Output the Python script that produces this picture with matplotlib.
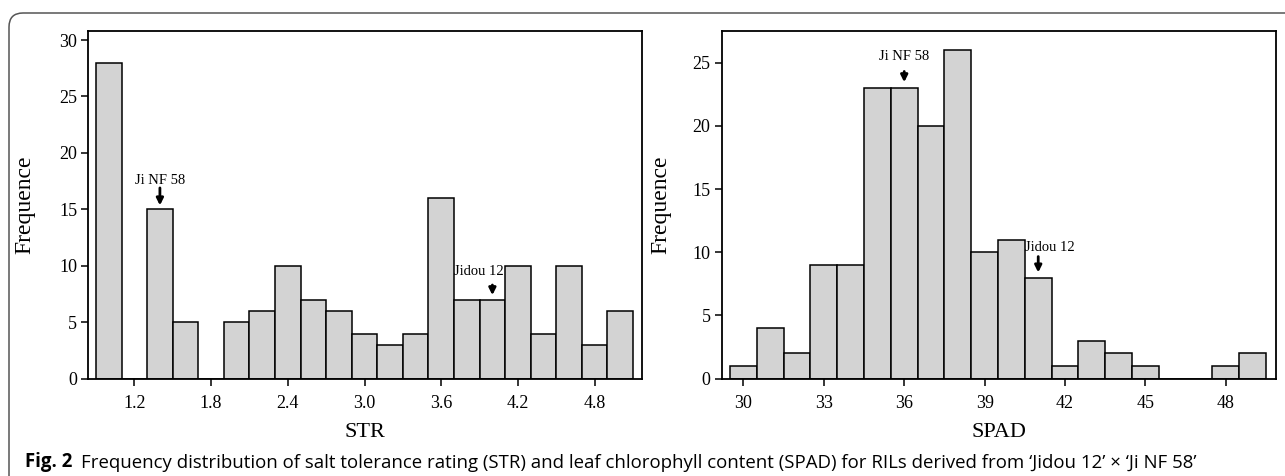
import matplotlib
matplotlib.use("Agg")
import matplotlib.pyplot as plt
from matplotlib.patches import FancyBboxPatch

# salt tolerance rating histogram (bin centres, width 0.2)
str_centres = [1.0, 1.2, 1.4, 1.6, 1.8, 2.0, 2.2, 2.4, 2.6, 2.8, 3.0,
               3.2, 3.4, 3.6, 3.8, 4.0, 4.2, 4.4, 4.6, 4.8, 5.0]
str_counts = [28, 0, 15, 5, 0, 5, 6, 10, 7, 6, 4,
              3, 4, 16, 7, 7, 10, 4, 10, 3, 6]
str_ticks = [1.2, 1.8, 2.4, 3.0, 3.6, 4.2, 4.8]

# leaf chlorophyll content histogram (bin centres, width 1)
spad_centres = [30, 31, 32, 33, 34, 35, 36, 37, 38, 39,
                40, 41, 42, 43, 44, 45, 46, 47, 48, 49]
spad_counts = [1, 4, 2, 9, 9, 23, 23, 20, 26, 10,
               11, 8, 1, 3, 2, 1, 0, 0, 1, 2]
spad_ticks = [30, 33, 36, 39, 42, 45, 48]

caption_bold = "Fig. 2"
caption = ("Frequency distribution of salt tolerance rating (STR) and leaf chlorophyll "
           "content (SPAD) for RILs derived from \u2018Jidou 12\u2019 \u00d7 \u2018Ji NF 58\u2019")

SERIF = "Liberation Serif"
SANS = "Open Sans"
W, H = 1285, 476

fig = plt.figure(figsize=(W / 100, H / 100), dpi=100)
ax1 = fig.add_axes([88.3 / W, 1 - 378.7 / H, (642 - 88.3) / W, (378.7 - 31) / H])
ax2 = fig.add_axes([721.7 / W, 1 - 378.7 / H, (1275.7 - 721.7) / W, (378.7 - 31) / H])


def style(ax, xlabel):
    for s in ax.spines.values():
        s.set_linewidth(1.3)
        s.set_color("black")
    ax.tick_params(axis="both", direction="out", length=5, width=1.1, colors="black")
    ax.tick_params(axis="x", pad=7, labelsize=13)
    ax.tick_params(axis="y", pad=3, labelsize=13)
    for lab in ax.get_xticklabels() + ax.get_yticklabels():
        lab.set_fontfamily(SERIF)
    ax.set_xlabel(xlabel, fontsize=16, family=SERIF, labelpad=8)
    ax.set_ylabel("Frequence", fontsize=17, family=SERIF)


def mark(ax, x_arrow, y_head, y_tail, label, x_text, y_text):
    ax.annotate("", xy=(x_arrow, y_head), xytext=(x_arrow, y_tail),
                arrowprops=dict(arrowstyle="-|>", color="black", lw=2.0,
                                mutation_scale=10, shrinkA=0, shrinkB=0))
    ax.text(x_text, y_text, label, ha="center", va="baseline",
            fontsize=10.5, family=SERIF)


# left panel: STR
ax1.bar(str_centres, str_counts, width=0.2, color="#d3d3d3",
        edgecolor="black", linewidth=1.1)
ax1.set_xlim(0.84, 5.17)
ax1.set_ylim(0, 30.8)
ax1.set_xticks(str_ticks)
ax1.set_xticklabels([f"{t:.1f}" for t in str_ticks])
ax1.set_yticks([0, 5, 10, 15, 20, 25, 30])
style(ax1, "STR")
ax1.yaxis.set_label_coords(-0.096, 0.5)
mark(ax1, 1.4, 15.35, 16.9, "Ji NF 58", 1.4, 17.25)
mark(ax1, 4.0, 7.4, 8.3, "Jidou 12", 3.89, 9.2)

# right panel: SPAD
ax2.bar(spad_centres, spad_counts, width=1.0, color="#d3d3d3",
        edgecolor="black", linewidth=1.1)
ax2.set_xlim(29.19, 49.86)
ax2.set_ylim(0, 27.5)
ax2.set_xticks(spad_ticks)
ax2.set_yticks([0, 5, 10, 15, 20, 25])
style(ax2, "SPAD")
ax2.yaxis.set_label_coords(-0.0915, 0.5)
mark(ax2, 36, 23.45, 24.3, "Ji NF 58", 36, 25.2)
mark(ax2, 41, 8.4, 9.66, "Jidou 12", 41.45, 10.1)

# rounded frame around the figure, cut off at the right and bottom
frame = FancyBboxPatch((9, -60), W + 100, H - 13 + 60,
                       boxstyle="round,pad=0,rounding_size=14",
                       transform=None, fill=False, ec="#555555", lw=1.1)
fig.add_artist(frame)

# caption
t1 = fig.text(25 / W, 8.5 / H, caption_bold, fontsize=13.4, weight="bold",
              family=SANS, va="baseline")
fig.canvas.draw()
x_end = t1.get_window_extent().x1
fig.text((x_end + 9) / W, 8.5 / H, caption, fontsize=13.4,
         family=SANS, va="baseline")

fig.savefig("out.png", dpi=100)
